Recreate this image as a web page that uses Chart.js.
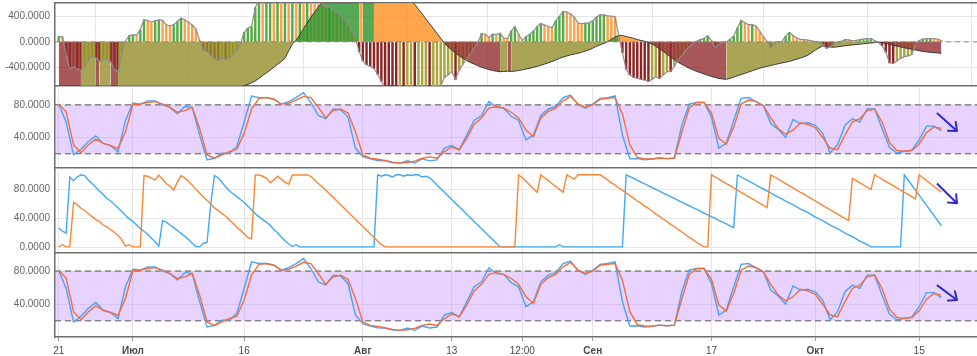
<!DOCTYPE html>
<html><head><meta charset="utf-8">
<script src="https://cdn.jsdelivr.net/npm/chart.js@4.4.1/dist/chart.umd.min.js"></script>
<style>
html,body{margin:0;padding:0;background:#fff;width:977px;height:356px;overflow:hidden;position:relative}
canvas{position:absolute;left:0}
</style></head><body>
<canvas id="c1" width="977" height="87" style="top:0px"></canvas>
<canvas id="c2" width="977" height="83" style="top:86px"></canvas>
<canvas id="c3" width="977" height="85" style="top:169px"></canvas>
<canvas id="c4" width="977" height="103" style="top:253px"></canvas>
<script>
// ---- axis / category data (days relative to 1 Jul) ----
const firstDay = -10;           // 21 Jun
const xMin = -10.5, xMax = 113.8;
const tickDays   = [-10, 0, 15, 31, 43, 52.5, 62, 78, 92, 106];
const tickLabels = ['21','Июл','16','Авг','13','12:00','Сен','17','Окт','15'];
const monthLabels = ['Июл','Авг','Сен','Окт'];

// ---- panel 1: momentum histogram/line (12h steps) ----
const momentum = [84,80,-210,-430,-390,-430,-445,-390,-285,-225,-250,-305,-290,-265,-313,-440,-465,-190,10,100,
110,105,190,350,335,310,337,345,340,270,250,270,320,375,345,310,265,200,20,-130,
-155,-215,-270,-295,-258,-272,-258,-200,-130,-30,150,215,240,540,660,640,700,740,720,780,
760,820,800,840,830,860,850,870,820,760,680,590,545,560,490,460,420,350,270,180,
60,-150,-300,-360,-385,-420,-510,-620,-720,-760,-800,-840,-820,-860,-850,-830,-870,-850,-820,-790,
-810,-780,-740,-690,-560,-520,-470,-590,-440,-350,-270,-190,-100,-10,130,120,70,120,115,135,
60,50,170,240,120,20,80,120,170,240,290,265,240,225,330,400,480,470,440,390,
300,285,295,300,330,390,425,425,410,405,395,100,-170,-430,-520,-560,-570,-590,-600,-625,
-590,-550,-575,-520,-470,-470,-380,-280,-220,-140,-80,-30,10,35,55,95,20,-90,-40,-10,
-5,40,90,220,340,300,270,270,250,170,80,10,-95,-20,0,5,90,150,100,60,
40,35,28,15,5,-5,-40,-100,-75,-30,-5,10,35,30,18,25,35,42,50,52,
20,-10,-60,-160,-330,-340,-300,-260,-232,-222,-200,-40,20,45,50,52,48,42,20];
// ---- panel 1: smoothed signal (area, 12h steps) ----
const signal = [-1000,-1010,-1030,-1050,-1070,-1090,-1100,-1095,-1090,-1085,-1080,-1085,-1080,-1075,-1070,-1075,-1078,-1075,-1070,-1064,
-1058,-1050,-1040,-1030,-1020,-1008,-996,-984,-972,-960,-948,-936,-924,-912,-900,-888,-876,-864,-852,-840,
-828,-816,-804,-792,-778,-764,-750,-736,-722,-708,-690,-670,-645,-615,-575,-530,-490,-445,-400,-355,
-310,-260,-140,-35,25,110,210,300,390,470,550,620,660,700,740,775,810,840,865,885,
900,905,895,905,915,920,905,885,860,835,810,785,755,720,685,645,590,515,440,360,
285,210,135,55,-20,-80,-130,-180,-220,-260,-295,-325,-350,-375,-400,-418,-435,-450,-462,-470,
-466,-462,-465,-460,-452,-440,-428,-415,-400,-385,-368,-350,-330,-310,-285,-260,-240,-222,-205,-192,
-180,-165,-145,-125,-100,-70,-45,-25,5,40,75,105,100,85,70,55,38,22,8,-10,
-35,-70,-110,-150,-195,-240,-285,-320,-355,-385,-415,-440,-465,-485,-505,-525,-545,-560,-575,-585,
-590,-575,-555,-535,-515,-495,-475,-455,-435,-415,-400,-385,-372,-358,-345,-332,-320,-308,-290,-272,
-255,-235,-210,-170,-130,-95,-65,-72,-80,-85,-78,-70,-62,-55,-48,-42,-36,-30,-24,-18,
-12,-5,-12,-25,-40,-55,-68,-80,-92,-104,-115,-128,-140,-150,-158,-165,-170,-175,-180];

// ---- panels 2 & 4: stochastic %K / %D (daily) ----
const stochK = [81,59,18.6,25.5,35,42,32.7,30,22.6,61,
82.4,81,85,85,80,77,69,78,77,43,12.5,14.5,20.6,20.6,28.7,59,91,89,89,87,
81,84,89,95,83,67,63,75,74,65,27,16.6,13.7,11.7,11.3,8.9,8.5,11.3,8.5,13.7,
11.3,12.5,27,30,24.7,43,61,67,84,77,76,66,61,37,43,67,75,78,89,92,
81,76,81,88,89,91,43,13.7,14,12.5,13.5,14.8,14,14.6,55,81,83,83,65,27,
33,61,88,89,84,79,57,50,40,62,57,58,55,45,21,31,55,63,59,75,
75,51,28,21,23,24.4,37,54,54,48];
const stochD = [81,71.5,31,21.4,31,38,32.7,30,26.7,47,
80,81,83,84,81,77,71,73,77,51,18.6,14.5,18.6,22.6,25.5,45,75,88,89,87,
81,82,86,90.5,89,77,64,73,75,70,47,18.6,14.5,13.3,11.7,9.7,8.5,9.3,10.9,14.5,
16.2,14.5,22.6,28.3,24.7,39,56,64,76,78,76,71,64,49,41,64,72,76,85,90.5,
81,77,80,87,88,89,69,31,15.4,13.7,13.5,14.8,14,14.8,46,76,83,83,70,39,
31.7,53,81,86,84,79,64,51,44,49,58,56,52,40,27,25,43,59,63,73,
75,59,34,24,23,24,32,46,53,51];
const bandLevels = [80, 20];

// ---- panel 3: cycle oscillator lines (12h steps) ----
const cycleBlue = [27,22.5,20,97,92,97,100,99,93,88,83,77.5,73,67.5,64,59.5,54.5,49.5,44,39.5,
36,31,26,22.5,18,13,8,2,37,35,31,27.5,23.5,19.5,15.5,11,6,1.5,1,6,
7,60,99,96,90,83.5,78,74,70,66,62,57,52,46.5,42.5,38.5,35,30.8,25,20.5,
14.5,9.5,5,1.5,4,1,1,1,1,1,1,1,1,1,1,1,1,1,1,1,
1,1,1,1,1,1,100,98,100,99,97,100,100,98,100,99,100,100,97,98,
96,91,86,81,76,71,66,61,56,51,46,41,36,31,26,21,16,11,6,1,
1,1,1,1,1,1,1,1,1,1,1,1,1,1,1,4,1,1,1,1,
1,1,1,1,1,1,1,1,1,1,1,1,1,100,97.5,95,92.5,90,87.5,85,
82.5,80,77.5,75,72.5,70,67.5,65,62.5,60,57.5,55,52.5,50,47.5,45,42.5,40,37.5,35,
32.5,30,27.5,100,97,94,91.5,89,86,83,80.5,78,75,72,69.5,67,64,61.5,59,56,
53,50.5,48,45,42,39.5,37,34,31,28.5,26,23,20,17.5,15,12,9,6.5,4,1,
1,1,1,1,1,1,1,1,100,93,86,79,72,65,58,51,44,37,30];
const cycleOrange = [1,4,1,1,62,59,54,51,46.5,42.5,38.5,36,31,28.5,24.5,21,17,11,2,4,
1,1,1,99,98,95,93,99.5,94,88,84,79,90,99,95.5,91,86,80,75,69.5,
65,60,54.5,51,47,43,38,33.5,28,24,19,14,12,99.8,99.8,98,95.5,89,93,98,
94,90,87,99.8,99.8,99.8,99.8,99.8,98,93,88,83.5,79,73.5,69,64,59,54,49,44,
39,34,29,24,19,14,9,4,1,1,1,1,1,1,1,1,1,1,1,1,
1,1,1,1,1,1,1,1,1,1,1,1,1,1,1,1,1,1,1,1,
1,1,1,1,100,96,91,86,81,76,100,96,92,88,84,80,76,100,97,94,
100,100,100,100,100,100,100,96.5,93,89,86,82,79,75,71.5,68,64,61,57,54,
50,46,43,39,36,32,29,25,21.5,18,14,11,7,4,1,1,100,97,94,91,
88,85,82,79,76,73,70,67,64,61,58,55,100,97,94,91,88,85,82,79,
76,73,70,67,64,61,58,55,52,49,46,43,40,37,95,92,89,86,83,80,
100,97,94,91,88,85,82,79,76,73,70,67,100,96,92,88,84,80,76];

// ---- annotation arrows (day, value) ----
const arrowDays = [108.4, 111.1];
const arrow2Vals = [70, 48];
const arrow3Vals = [88, 61];
const arrow4Vals = [63, 45];

// ---------------- helpers ----------------
const FONT = "'Liberation Sans', Arial, sans-serif";
const halfDay = arr => arr.map((y, i) => ({x: firstDay + i * 0.5, y}));
const daily = arr => arr.map((y, i) => ({x: firstDay + i, y}));
const level = v => [{x: xMin, y: v}, {x: xMax, y: v}];
const pairPts = (xs, ys) => xs.map((x, i) => ({x, y: ys[i]}));

const barPal  = {up:'#55ab47', down:'#ffa247', fall:'#8f2222', rise:'#a8a53a'};
const areaPal = {up:'rgba(42,146,42,0.8)', down:'rgba(255,144,32,0.8)', fall:'rgba(146,46,46,0.8)', rise:'rgba(149,142,42,0.8)'};
function trend(prev, cur, pal) {
  const m = (prev + cur) / 2;
  if (m >= 0) return cur >= prev ? pal.up : pal.down;
  return cur <= prev ? pal.fall : pal.rise;
}
const barColors = momentum.map((v, i) => trend(i ? momentum[i-1] : v, v, barPal));

function xAxis(showLabels) {
  return {
    type:'linear', min:xMin, max:xMax, offset:false,
    afterBuildTicks: s => { s.ticks = tickDays.map(v => ({value:v})); },
    afterFit: s => { s.height = showLabels ? 19 : 0; s.paddingLeft = 0; s.paddingRight = 0; },
    grid: {color:'#e6e6e6', lineWidth:1, drawTicks:showLabels, tickLength:4, tickColor:'#9a9a9a'},
    border: {display:true, color:'#6e6e6e', width:1.5},
    ticks: {display:showLabels, autoSkip:false, maxRotation:0, padding:4, color:'#4a4a4a',
      font: c => ({family:FONT, size:10, weight: monthLabels.includes(tickLabels[c.index]) ? 'bold' : 'normal'}),
      callback: (v, i) => tickLabels[i]}
  };
}
function topAxis() {
  return {type:'linear', position:'top', min:xMin, max:xMax, offset:false,
    afterFit: s => { s.height = 0; },
    grid:{display:false, drawTicks:false}, ticks:{display:false},
    border:{display:true, color:'#6e6e6e', width:1.5}};
}
function yAxis(min, max, ticks) {
  return {
    min, max,
    afterBuildTicks: s => { s.ticks = ticks.map(v => ({value:v})); },
    afterFit: s => { s.width = 55; s.paddingTop = 0; s.paddingBottom = 0; },
    grid: {color:'#e6e6e6', drawTicks:false},
    border: {display:true, color:'#6e6e6e', width:1.5},
    ticks: {padding:5, color:'#666', font:{family:FONT, size:10}, callback: v => Number(v).toFixed(4)}
  };
}
const arrowHead = {
  id:'arrowHead',
  afterDatasetsDraw(chart) {
    const ctx = chart.ctx;
    chart.data.datasets.forEach((ds, di) => {
      if (!ds.isArrow) return;
      const pts = chart.getDatasetMeta(di).data;
      const a = pts[pts.length - 2], b = pts[pts.length - 1];
      const ang = Math.atan2(b.y - a.y, b.x - a.x), L = 9, s = 0.7;
      ctx.save();
      ctx.strokeStyle = ds.borderColor; ctx.lineWidth = ds.borderWidth; ctx.lineCap = 'round'; ctx.lineJoin = 'round';
      ctx.beginPath();
      ctx.moveTo(b.x - L * Math.cos(ang - s), b.y - L * Math.sin(ang - s));
      ctx.lineTo(b.x, b.y);
      ctx.lineTo(b.x - L * Math.cos(ang + s), b.y - L * Math.sin(ang + s));
      ctx.stroke();
      ctx.restore();
    });
  }
};
const baseOpts = pad => ({
  responsive:false, animation:false, devicePixelRatio:1,
  layout:{padding:pad},
  plugins:{legend:{display:false}, tooltip:{enabled:false}},
  elements:{point:{radius:0}, line:{tension:0}},
  events:[]
});
function arrowDs(vals) {
  return {type:'line', data:pairPts(arrowDays, vals), borderColor:'#2b2bd6', borderWidth:2, pointRadius:0, isArrow:true, order:0, clip:false};
}
function stochDatasets(kColor, dColor, arrowVals) {
  return [
    arrowDs(arrowVals),
    {data:level(bandLevels[0]), borderColor:'#555', borderWidth:1, borderDash:[6,4], pointRadius:0, order:5},
    {data:level(bandLevels[1]), borderColor:'#555', borderWidth:1, borderDash:[6,4], pointRadius:0, fill:'-1', backgroundColor:'rgba(190,130,255,0.36)', order:6},
    {data:daily(stochK), borderColor:kColor, borderWidth:1.4, pointRadius:0, order:2},
    {data:daily(stochD), borderColor:dColor, borderWidth:1.4, pointRadius:0, order:1}
  ];
}

// ---------------- panel 1 ----------------
new Chart(document.getElementById('c1'), {
  type:'bar',
  data:{datasets:[
    {type:'line', data:level(0), borderColor:'#8a8a8a', borderWidth:1, borderDash:[5,4], pointRadius:0, order:0},
    {type:'line', data:halfDay(momentum), borderColor:'#8d8d8d', borderWidth:1.2, pointRadius:0, order:1},
    {type:'line', data:halfDay(signal), borderColor:'#3a3a3a', borderWidth:1, pointRadius:0, fill:'origin',
      backgroundColor:areaPal.fall,
      segment:{backgroundColor: c => trend(c.p0.parsed.y, c.p1.parsed.y, areaPal)}, order:2},
    {type:'bar', data:halfDay(momentum), backgroundColor:barColors, borderWidth:0, barThickness:1.8, grouped:false, order:3}
  ]},
  options:Object.assign(baseOpts({top:3, bottom:1, left:0, right:0}), {
    scales:{x:xAxis(false), xTop:topAxis(), y:yAxis(-695, 612, [-400, 0, 400])}
  })
});

// ---------------- panel 2 ----------------
new Chart(document.getElementById('c2'), {
  type:'line',
  data:{datasets:stochDatasets('#49a3f8', '#f46d3d', arrow2Vals)},
  options:Object.assign(baseOpts({top:1, bottom:1, left:0, right:0}), {
    scales:{x:xAxis(false), y:yAxis(2.5, 102, [40, 80])}
  }),
  plugins:[arrowHead]
});

// ---------------- panel 3 ----------------
new Chart(document.getElementById('c3'), {
  type:'line',
  data:{datasets:[
    arrowDs(arrow3Vals),
    {data:halfDay(cycleBlue), borderColor:'#3fa9f5', borderWidth:1.4, pointRadius:0, order:2},
    {data:halfDay(cycleOrange), borderColor:'#fb8535', borderWidth:1.4, pointRadius:0, order:1}
  ]},
  options:Object.assign(baseOpts({top:1, bottom:1, left:0, right:0}), {
    scales:{x:xAxis(false), y:yAxis(-7.4, 106.6, [0, 40, 80])}
  }),
  plugins:[arrowHead]
});

// ---------------- panel 4 ----------------
new Chart(document.getElementById('c4'), {
  type:'line',
  data:{datasets:stochDatasets('#49a3f8', '#f46d3d', arrow4Vals)},
  options:Object.assign(baseOpts({top:1, bottom:0, left:0, right:0}), {
    scales:{x:xAxis(true), y:yAxis(0.5, 100.5, [40, 80])}
  }),
  plugins:[arrowHead]
});
</script>
</body></html>
